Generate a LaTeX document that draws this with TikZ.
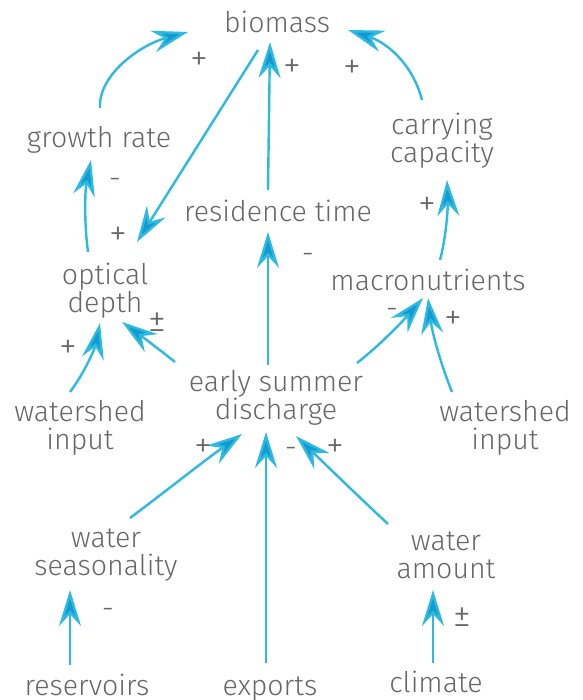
\documentclass[tikz,border=0pt]{standalone}
\usepackage{fontspec}
\setmainfont{Fira Sans}[UprightFont={* Light}]
\usetikzlibrary{arrows.meta,calc}
\definecolor{txt}{HTML}{66676A}
\definecolor{ln}{HTML}{2CB9E2}
\definecolor{hd}{HTML}{139BCF}
\begin{document}
\begin{tikzpicture}[x=1pt,y=-1pt,
  var/.style={text=txt,font=\fontsize{28.5}{28}\selectfont,align=center,inner sep=0pt,anchor=base},
  sgn/.style={text=txt,font=\fontsize{36}{36}\selectfont,inner sep=0pt},
  msgn/.style={text=txt,font=\fontsize{30}{30}\selectfont,inner sep=0pt},
  lnk/.style={draw=ln,line width=2.4pt,-{Stealth[length=36pt,width=22pt,inset=12pt,fill=hd]}}]
\useasboundingbox[fill=white] (0,0) rectangle (582,700);
% variables (base = baseline of last line)
\node[var] (bio) at (277,33) {biomass};
\node[var] (gr) at (99,148) {growth rate};
\node[var] (cc) at (442,163) {carrying\\capacity};
\node[var] (rt) at (278,222) {residence time};
\node[var] (od) at (105,312) {optical\\depth};
\node[var] (mn) at (428,290) {macronutrients};
\node[var] (esd) at (276,419) {early summer\\discharge};
\node[var] (wl) at (80,449) {watershed\\input};
\node[var] (wr) at (505,449) {watershed\\input};
\node[var] (ws) at (106,575) {water\\seasonality};
\node[var] (wa) at (446,578) {water\\amount};
\node[var] (res) at (87,695) {reservoirs};
\node[var] (exp) at (270,695) {exports};
\node[var] (cli) at (436,692) {climate};
% links
\draw[lnk] ($(gr.base)+(1,-40)$) .. controls (98,75) and (140,45) .. ($(bio.base)+(-89,-1)$);
\draw[lnk] ($(bio.base)+(-19,17)$) -- ($(od.base)+(32,-70)$);
\draw[lnk] ($(rt.base)+(-10,-32)$) -- ($(bio.base)+(-7,9)$);
\draw[lnk] ($(cc.base)+(-20,-63)$) .. controls (412,62) and (385,42) .. ($(bio.base)+(71,-3)$);
\draw[lnk] ($(od.base)+(-17,-60)$) .. controls (84,222) and (85,190) .. ($(gr.base)+(-8,12)$);
\draw[lnk] ($(esd.base)+(-8,-54)$) -- ($(rt.base)+(-10,10)$);
\draw[lnk] ($(mn.base)+(12,-30)$) .. controls (446,238) and (448,208) .. ($(cc.base)+(5,17)$);
\draw[lnk] ($(esd.base)+(-101,-57)$) .. controls (160,350) and (140,335) .. ($(od.base)+(17,10)$);
\draw[lnk] ($(wl.base)+(-10,-57)$) .. controls (85,372) and (95,348) .. ($(od.base)+(-5,11)$);
\draw[lnk] ($(esd.base)+(81,-56)$) .. controls (380,345) and (402,322) .. ($(mn.base)+(-5,8)$);
\draw[lnk] ($(wr.base)+(-53,-57)$) .. controls (440,362) and (432,332) .. ($(mn.base)+(0,8)$);
\draw[lnk] ($(ws.base)+(24,-57)$) .. controls (170,488) and (205,460) .. ($(esd.base)+(-34,15)$);
\draw[lnk] ($(exp.base)+(-4,-32)$) -- ($(esd.base)+(-10,13)$);
\draw[lnk] ($(wa.base)+(-58,-54)$) .. controls (360,498) and (325,464) .. ($(esd.base)+(20,17)$);
\draw[lnk] ($(res.base)+(-17,-30)$) -- ($(ws.base)+(-36,15)$);
\draw[lnk] ($(cli.base)+(-3,-29)$) -- ($(wa.base)+(-13,12)$);
% signs
\node[sgn] (s1) at (199,61) {+};
\node[sgn] (s2) at (118,236) {+};
\node[sgn] (s3) at (292,68) {+};
\node[sgn] (s4) at (352,69) {+};
\node[msgn] (s5) at (115,183) {-};
\node[msgn] (s6) at (308,258) {-};
\node[sgn] (s7) at (427,206) {+};
\node[sgn] (s8) at (157,322) {±};
\node[sgn] (s9) at (68,349) {+};
\node[msgn] (s10) at (392,313) {-};
\node[sgn] (s11) at (453,320) {+};
\node[sgn] (s12) at (203,448) {+};
\node[msgn] (s13) at (291,452) {-};
\node[sgn] (s14) at (335,448) {+};
\node[msgn] (s15) at (108,613) {-};
\node[sgn] (s16) at (462,617) {±};
\end{tikzpicture}
\end{document}
